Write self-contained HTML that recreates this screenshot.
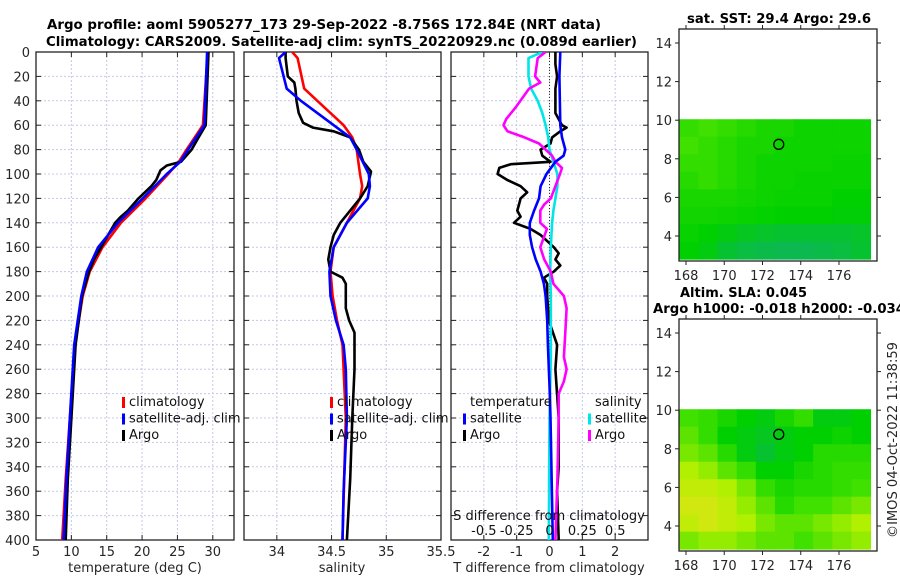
<!DOCTYPE html>
<html><head><meta charset="utf-8"><style>
html,body{margin:0;padding:0;background:#fff;}
svg{display:block;font-family:"DejaVu Sans","Liberation Sans",sans-serif;}
</style></head><body>
<svg id="fig" width="900" height="580" viewBox="0 0 900 580" xmlns="http://www.w3.org/2000/svg"></svg>
<script>
// ---------- data ----------
const depthTicks=[0,20,40,60,80,100,120,140,160,180,200,220,240,260,280,300,320,340,360,380,400];
const tempTicks=[5,10,15,20,25,30];
const salTicks=[34,34.5,35,35.5];
const tdiffTicks=[-2,-1,0,1,2];
const sdiffTicks=[-0.5,-0.25,0,0.25,0.5];
const sdiffTickLabels=["-0.5","-0.25","0","0.25","0.5"];
const latTicks=[4,6,8,10,12,14];
const lonTicks=[168,170,172,174,176];

const tClimD=[0,60,80,90,100,120,140,160,180,200,240,300,350,400];
const tClimV=[29.3,28.6,26.3,25.2,23.7,20.5,17,14.4,12.6,11.6,10.5,9.8,9.2,8.7];
const tSatD=[0,60,80,90,100,120,140,160,180,200,240,300,350,400];
const tSatV=[29.2,28.8,26.5,25.4,23.5,20.1,16.6,13.8,12.2,11.4,10.4,9.8,9.3,8.9];
const tArgoD=[0,60,70,80,90,93,97,105,110,120,130,135,140,150,160,170,180,200,240,300,350,400];
const tArgoV=[29.4,29.0,28.0,27.0,25.5,23.5,22.6,22.0,21.3,19.5,18.0,17.0,16.2,15.2,14.2,13.2,12.5,11.5,10.6,10.0,9.5,9.2];

const sClimD=[0,5,30,40,60,70,80,100,110,120,140,160,180,200,220,240,280,300,400];
const sClimV=[34.14,34.19,34.25,34.37,34.61,34.69,34.73,34.76,34.78,34.76,34.64,34.52,34.49,34.51,34.55,34.6,34.62,34.63,34.6];
const sSatD=[0,5,30,40,60,70,80,100,110,120,140,160,180,200,220,240,260,300,320,360,400];
const sSatV=[34.08,34.02,34.09,34.22,34.52,34.67,34.73,34.84,34.85,34.83,34.64,34.52,34.48,34.49,34.54,34.61,34.63,34.64,34.63,34.61,34.6];
const sArgoD=[0,5,20,25,30,40,50,58,62,65,70,80,90,98,110,120,130,140,150,160,170,180,185,190,210,220,230,260,300,350,400];
const sArgoV=[34.08,34.08,34.1,34.16,34.17,34.18,34.2,34.24,34.33,34.52,34.67,34.75,34.79,34.86,34.83,34.76,34.67,34.58,34.52,34.49,34.47,34.49,34.6,34.63,34.63,34.66,34.71,34.71,34.69,34.67,34.64];

const dTSatD=[0,20,60,70,80,85,90,100,110,120,130,140,150,160,170,180,190,200,220,240,280,300,400];
const dTSatV=[0.33,0.3,0.33,0.38,0.48,0.43,0.18,-0.09,-0.27,-0.32,-0.47,-0.6,-0.6,-0.53,-0.42,-0.27,-0.17,-0.12,-0.07,-0.05,0.01,0.03,0.1];
const dTArgoD=[0,10,20,30,50,60,62,65,70,75,80,85,90,92,95,100,105,110,115,120,125,130,135,140,145,150,155,160,165,170,175,180,185,190,200,220,240,260,300,340,360,400];
const dTArgoV=[0.18,0.18,0.23,0.18,0.18,0.38,0.52,0.33,0.08,0.03,-0.27,-0.22,0.03,-1.18,-1.53,-1.58,-1.28,-0.88,-0.68,-0.88,-0.93,-0.98,-0.88,-1.08,-0.58,-0.27,-0.07,0.13,0.28,0.18,0.33,0.13,-0.17,-0.07,-0.07,-0.02,0.23,0.18,0.28,0.28,0.23,0.28];
const dSSatD=[0,5,20,30,40,50,60,70,80,90,100,110,120,130,140,160,180,200,250,300,400];
const dSSatV=[-0.055,-0.16,-0.16,-0.14,-0.09,-0.055,-0.03,-0.01,0,0.03,0.06,0.06,0.045,0.03,0.02,0.01,0.005,0.01,0.01,0,-0.005];
const dSArgoD=[0,5,20,25,30,45,55,60,65,70,75,80,85,90,95,100,110,120,125,130,140,145,160,170,180,190,200,210,230,250,260,270,280,300,350,400];
const dSArgoV=[-0.03,-0.09,-0.11,-0.07,-0.155,-0.255,-0.33,-0.35,-0.32,-0.19,-0.08,-0.03,0.02,0.045,0.095,0.08,0.045,0.01,-0.04,-0.07,-0.07,-0.02,-0.07,-0.04,0.01,0.03,0.11,0.13,0.12,0.11,0.13,0.11,0.07,0.07,0.06,0.045];

const mapLons=[168,169,170,171,172,173,174,175,176,177];
const sstGrid=[
[.55,.6,.55,.5,.45,.45,.4,.4,.4,.4],
[.6,.55,.5,.45,.45,.4,.4,.4,.4,.4],
[.55,.55,.5,.45,.4,.4,.4,.4,.38,.38],
[.5,.55,.5,.45,.4,.4,.38,.38,.38,.38],
[.45,.45,.45,.42,.4,.38,.38,.38,.35,.35],
[.42,.42,.4,.38,.36,.35,.35,.35,.33,.33],
[.38,.35,.3,.25,.22,.2,.2,.2,.2,.22],
[.35,.3,.2,.15,.12,.1,.1,.12,.15,.2]];
const slaGrid=[
[.6,.55,.45,.35,.3,.45,.55,.3,.3,.35],
[.65,.55,.35,.3,.25,.3,.35,.35,.4,.35],
[.7,.65,.5,.3,.2,.3,.35,.5,.5,.5],
[.8,.75,.65,.55,.35,.35,.45,.5,.55,.55],
[.85,.85,.8,.7,.55,.45,.5,.5,.55,.6],
[.9,.9,.85,.75,.65,.5,.6,.6,.65,.7],
[.85,.9,.85,.8,.7,.65,.65,.7,.75,.8],
[.7,.75,.75,.7,.65,.65,.6,.65,.7,.75]];
const argoPos=[172.85,8.75];

// ---------- helpers ----------
const NS="http://www.w3.org/2000/svg";
const svg=document.getElementById('fig');
function mk(tag,attrs,parent){const e=document.createElementNS(NS,tag);for(const k in attrs)e.setAttribute(k,attrs[k]);(parent||svg).appendChild(e);return e;}
function txt(s,attrs,parent){const e=mk('text',attrs,parent);e.textContent=s;return e;}
const Y0=52,Y1=540;
const yD=d=>Y0+(d/400)*(Y1-Y0);
function lin(d0,d1,r0,r1){return v=>r0+(v-d0)/(d1-d0)*(r1-r0);}
const xT=lin(5,33,36,234), xS=lin(33.7,35.5,244,441), xDT=lin(-3,3,451,648), xDS=v=>xDT(v*4);
const panels=[{x0:36,x1:234,name:'temperature-panel',sc:xT,ticks:tempTicks},
 {x0:244,x1:441,name:'salinity-panel',sc:xS,ticks:salTicks},
 {x0:451,x1:648,name:'difference-panel',sc:xDT,ticks:tdiffTicks}];
const FS=13;

panels.forEach((p,pi)=>{
  const g=mk('g',{});
  
  
  depthTicks.forEach(d=>{ if(d>0&&d<400){const l=mk('line',{x1:p.x0,x2:p.x1,y1:yD(d),y2:yD(d),stroke:'#c5c8e6','stroke-width':1,'stroke-dasharray':'2,2'},g);
    }
    mk('line',{x1:p.x0,x2:p.x0+5,y1:yD(d),y2:yD(d),stroke:'#222'},g);
    mk('line',{x1:p.x1-5,x2:p.x1,y1:yD(d),y2:yD(d),stroke:'#222'},g);
  });
  p.ticks.forEach(t=>{const x=p.sc(t); if(x>p.x0+1&&x<p.x1-1){const l=mk('line',{x1:x,x2:x,y1:Y0,y2:Y1,stroke:'#c5c8e6','stroke-width':1,'stroke-dasharray':'2,2'},g);
    }
    mk('line',{x1:x,x2:x,y1:Y1,y2:Y1-5,stroke:'#222'},g);mk('line',{x1:x,x2:x,y1:Y0,y2:Y0+5,stroke:'#222'},g);
    const tl=txt(String(t),{x:x,y:556,'font-size':FS,'text-anchor':'middle',fill:'#262626'},g);
    
  });
  const r=mk('rect',{x:p.x0,y:Y0,width:p.x1-p.x0,height:Y1-Y0,fill:'none',stroke:'#222','stroke-width':1.3},g);
  
});
depthTicks.forEach(d=>{const t=txt(String(d),{x:30,y:yD(d)+5,'font-size':FS,'text-anchor':'end',fill:'#262626'});
  });
// dotted zero line in diff panel
const zl=mk('line',{x1:xDT(0),x2:xDT(0),y1:Y0,y2:Y1,stroke:'#333','stroke-width':1,'stroke-dasharray':'1,2'});


function series(D,V,sc,color,name,cp){
  const pts=D.map((d,i)=>sc(V[i]).toFixed(1)+','+yD(d).toFixed(1)).join(' ');
  const pl=mk('polyline',{points:pts,fill:'none',stroke:color,'stroke-width':2.6,'stroke-linejoin':'round','clip-path':'url(#'+cp+')'});
  
}
const defs=mk('defs',{});
panels.forEach((p,i)=>{const c=mk('clipPath',{id:'cp'+i},defs);mk('rect',{x:p.x0,y:Y0,width:p.x1-p.x0,height:Y1-Y0},c);});
series(tClimD,tClimV,xT,'#ff0000','temperature-climatology-line','cp0');
series(tArgoD,tArgoV,xT,'#000000','temperature-argo-line','cp0');
series(tSatD,tSatV,xT,'#0000ff','temperature-satellite-line','cp0');
series(sClimD,sClimV,xS,'#ff0000','salinity-climatology-line','cp1');
series(sArgoD,sArgoV,xS,'#000000','salinity-argo-line','cp1');
series(sSatD,sSatV,xS,'#0000ff','salinity-satellite-line','cp1');
series(dTArgoD,dTArgoV,xDT,'#000000','t-diff-argo-line','cp2');
series(dSSatD,dSSatV,xDS,'#00e5e5','s-diff-satellite-line','cp2');
series(dSArgoD,dSArgoV,xDS,'#ff00ff','s-diff-argo-line','cp2');
series(dTSatD,dTSatV,xDT,'#0000ff','t-diff-satellite-line','cp2');

// x labels
[['temperature (deg C)',135,'temperature-axis-title'],['salinity',342,'salinity-axis-title'],['T difference from climatology',549,'t-diff-axis-title']].forEach(a=>{
  const t=txt(a[0],{x:a[1],y:572,'font-size':FS,'text-anchor':'middle',fill:'#262626'});
  });
const sdt=txt('S difference from climatology',{x:549,y:520,'font-size':FS,'text-anchor':'middle',fill:'#111'});

sdiffTicks.forEach((s,i)=>{const t=txt(sdiffTickLabels[i],{x:xDS(s),y:535,'font-size':FS,'text-anchor':'middle',fill:'#111'});
  });

// legends
function legend(x,items,name){const g=mk('g',{});
  items.forEach((it,i)=>{const y=406+i*16.5;
    if(it[1]){const m=mk('rect',{x:x,y:y-9,width:3,height:11,fill:it[1]},g);}
    const t=txt(it[0],{x:x+(it[1]?7:7),y:y,'font-size':FS,fill:'#111'},g);});}
legend(122,[['climatology','#ff0000'],['satellite-adj. clim','#0000ff'],['Argo','#000']],'temperature-legend');
legend(330,[['climatology','#ff0000'],['satellite-adj. clim','#0000ff'],['Argo','#000']],'salinity-legend');
legend(463,[['temperature',null],['satellite','#0000ff'],['Argo','#000']],'t-diff-legend');
legend(588,[['salinity',null],['satellite','#00e5e5'],['Argo','#ff00ff']],'s-diff-legend');

// titles
const t1=txt('Argo profile: aoml 5905277_173 29-Sep-2022 -8.756S 172.84E (NRT data)',{x:47,y:29,'font-size':13.5,'font-weight':'bold',fill:'#000',textLength:554,lengthAdjust:'spacingAndGlyphs'});

const t2=txt('Climatology: CARS2009. Satellite-adj clim: synTS_20220929.nc (0.089d earlier)',{x:46,y:46,'font-size':13.5,'font-weight':'bold',fill:'#000',textLength:591,lengthAdjust:'spacingAndGlyphs'});


// maps
function cmap(v){const st=[[0,[16,176,112]],[0.35,[0,208,0]],[0.6,[64,224,0]],[0.8,[176,240,0]],[1,[240,224,32]]];
  for(let i=1;i<st.length;i++){if(v<=st[i][0]){const a=st[i-1],b=st[i],f=(v-a[0])/(b[0]-a[0]);
    return 'rgb('+a[1].map((c,k)=>Math.round(c+(b[1][k]-c)*f)).join(',')+')';}}return 'rgb(240,224,32)';}
function drawMap(top,grid,name,title1,title2){
  const x0=679,x1=877,y0=top,y1=top+232;
  const xL=lin(168,176,686,839), yL=lin(4,14,top+207,top+14);
  const g=mk('g',{});
  const latTop=10.05,latBot=2.8,nr=grid.length;
  grid.forEach((row,r)=>row.forEach((v,c)=>{
    const lx=mapLons[c]-0.35, la=latTop-(latTop-latBot)*r/nr, lb=latTop-(latTop-latBot)*(r+1)/nr;
    const xa=Math.max(x0,xL(lx)), xb=Math.min(875,xL(lx+1));
    const cell=mk('rect',{x:xa,y:yL(la),width:xb-xa+0.5,height:yL(lb)-yL(la)+0.5,fill:cmap(v)},g);
    }));
  const c=mk('circle',{cx:xL(argoPos[0]),cy:yL(argoPos[1]),r:5,fill:'none',stroke:'#000','stroke-width':1.3},g);
  
  mk('rect',{x:x0,y:y0,width:x1-x0,height:y1-y0,fill:'none',stroke:'#222','stroke-width':1.3},g);
  latTicks.forEach(l=>{const y=yL(l);mk('line',{x1:x0-4,x2:x0,y1:y,y2:y,stroke:'#222'},g);mk('line',{x1:x1,x2:x1+4,y1:y,y2:y,stroke:'#222'},g);
    const t=txt(String(l),{x:x0-7,y:y+5,'font-size':FS,'text-anchor':'end',fill:'#262626'},g);});
  lonTicks.forEach(l=>{const x=xL(l);mk('line',{x1:x,x2:x,y1:y1,y2:y1+4,stroke:'#222'},g);mk('line',{x1:x,x2:x,y1:y0-4,y2:y0,stroke:'#222'},g);
    const t=txt(String(l),{x:x,y:y1+19,'font-size':FS,'text-anchor':'middle',fill:'#262626'},g);});
}
drawMap(29,sstGrid,'sst-map');
drawMap(319,slaGrid,'sla-map');
const m1=txt('sat. SST: 29.4 Argo: 29.6',{x:687,y:23,'font-size':13,'font-weight':'bold',fill:'#000',textLength:184,lengthAdjust:'spacingAndGlyphs'});

const m2=txt('Altim. SLA: 0.045',{x:680,y:297,'font-size':13,'font-weight':'bold',fill:'#000',textLength:127,lengthAdjust:'spacingAndGlyphs'});

const m3=txt('Argo h1000: -0.018 h2000: -0.034',{x:653,y:313,'font-size':13,'font-weight':'bold',fill:'#000',textLength:252,lengthAdjust:'spacingAndGlyphs'});

const cr=txt('©IMOS 04-Oct-2022 11:38:59',{x:0,y:0,'font-size':13,'text-anchor':'middle',fill:'#262626',transform:'translate(897,440) rotate(-90)',textLength:196,lengthAdjust:'spacingAndGlyphs'});

</script>
</body></html>
